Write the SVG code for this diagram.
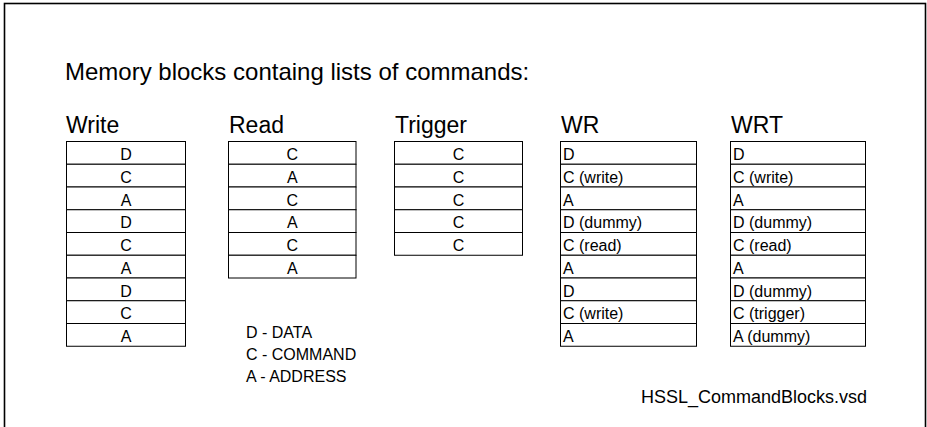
<svg xmlns="http://www.w3.org/2000/svg" width="927" height="427" viewBox="0 0 927 427">
<style>
.t{font-family:"Liberation Sans",Arial,sans-serif;fill:#000}
.title{font-size:24px}
.head{font-size:23px}
.cell{fill:#fff;stroke:#000;stroke-width:1}
.ct{font-size:16px;text-anchor:middle}
.lt{font-size:16px}
.leg{font-size:16px}
.foot{font-size:18px}
</style>
<rect x="4.5" y="3.5" width="921" height="440" fill="#fff" stroke="#000" stroke-width="1.6"/>
<text class="t title" x="65" y="80">Memory blocks containg lists of commands:</text>
<g id="write">
<text class="t head" x="66" y="132.5">Write</text>
<rect class="cell" x="66.5" y="141.5" width="119" height="22.75"/>
<rect class="cell" x="66.5" y="164.25" width="119" height="22.75"/>
<rect class="cell" x="66.5" y="187" width="119" height="22.75"/>
<rect class="cell" x="66.5" y="209.75" width="119" height="22.75"/>
<rect class="cell" x="66.5" y="232.5" width="119" height="22.75"/>
<rect class="cell" x="66.5" y="255.25" width="119" height="22.75"/>
<rect class="cell" x="66.5" y="278" width="119" height="22.75"/>
<rect class="cell" x="66.5" y="300.75" width="119" height="22.75"/>
<rect class="cell" x="66.5" y="323.5" width="119" height="22.75"/>
<text class="t ct" x="126" y="160">D</text>
<text class="t ct" x="126" y="182.75">C</text>
<text class="t ct" x="126" y="205.5">A</text>
<text class="t ct" x="126" y="228.25">D</text>
<text class="t ct" x="126" y="251">C</text>
<text class="t ct" x="126" y="273.75">A</text>
<text class="t ct" x="126" y="296.5">D</text>
<text class="t ct" x="126" y="319.25">C</text>
<text class="t ct" x="126" y="342">A</text>
</g>
<g id="read">
<text class="t head" x="229" y="132.5">Read</text>
<rect class="cell" x="228.5" y="141.5" width="127.5" height="22.75"/>
<rect class="cell" x="228.5" y="164.25" width="127.5" height="22.75"/>
<rect class="cell" x="228.5" y="187" width="127.5" height="22.75"/>
<rect class="cell" x="228.5" y="209.75" width="127.5" height="22.75"/>
<rect class="cell" x="228.5" y="232.5" width="127.5" height="22.75"/>
<rect class="cell" x="228.5" y="255.25" width="127.5" height="22.75"/>
<text class="t ct" x="292.25" y="160">C</text>
<text class="t ct" x="292.25" y="182.75">A</text>
<text class="t ct" x="292.25" y="205.5">C</text>
<text class="t ct" x="292.25" y="228.25">A</text>
<text class="t ct" x="292.25" y="251">C</text>
<text class="t ct" x="292.25" y="273.75">A</text>
</g>
<g id="trigger">
<text class="t head" x="395" y="132.5">Trigger</text>
<rect class="cell" x="394.5" y="141.5" width="128" height="22.75"/>
<rect class="cell" x="394.5" y="164.25" width="128" height="22.75"/>
<rect class="cell" x="394.5" y="187" width="128" height="22.75"/>
<rect class="cell" x="394.5" y="209.75" width="128" height="22.75"/>
<rect class="cell" x="394.5" y="232.5" width="128" height="22.75"/>
<text class="t ct" x="458.5" y="160">C</text>
<text class="t ct" x="458.5" y="182.75">C</text>
<text class="t ct" x="458.5" y="205.5">C</text>
<text class="t ct" x="458.5" y="228.25">C</text>
<text class="t ct" x="458.5" y="251">C</text>
</g>
<g id="wr">
<text class="t head" x="561" y="132.5">WR</text>
<rect class="cell" x="560.5" y="141.5" width="136" height="22.75"/>
<rect class="cell" x="560.5" y="164.25" width="136" height="22.75"/>
<rect class="cell" x="560.5" y="187" width="136" height="22.75"/>
<rect class="cell" x="560.5" y="209.75" width="136" height="22.75"/>
<rect class="cell" x="560.5" y="232.5" width="136" height="22.75"/>
<rect class="cell" x="560.5" y="255.25" width="136" height="22.75"/>
<rect class="cell" x="560.5" y="278" width="136" height="22.75"/>
<rect class="cell" x="560.5" y="300.75" width="136" height="22.75"/>
<rect class="cell" x="560.5" y="323.5" width="136" height="22.75"/>
<text class="t lt" x="563" y="160">D</text>
<text class="t lt" x="563" y="182.75">C (write)</text>
<text class="t lt" x="563" y="205.5">A</text>
<text class="t lt" x="563" y="228.25">D (dummy)</text>
<text class="t lt" x="563" y="251">C (read)</text>
<text class="t lt" x="563" y="273.75">A</text>
<text class="t lt" x="563" y="296.5">D</text>
<text class="t lt" x="563" y="319.25">C (write)</text>
<text class="t lt" x="563" y="342">A</text>
</g>
<g id="wrt">
<text class="t head" x="731" y="132.5">WRT</text>
<rect class="cell" x="730.5" y="141.5" width="135" height="22.75"/>
<rect class="cell" x="730.5" y="164.25" width="135" height="22.75"/>
<rect class="cell" x="730.5" y="187" width="135" height="22.75"/>
<rect class="cell" x="730.5" y="209.75" width="135" height="22.75"/>
<rect class="cell" x="730.5" y="232.5" width="135" height="22.75"/>
<rect class="cell" x="730.5" y="255.25" width="135" height="22.75"/>
<rect class="cell" x="730.5" y="278" width="135" height="22.75"/>
<rect class="cell" x="730.5" y="300.75" width="135" height="22.75"/>
<rect class="cell" x="730.5" y="323.5" width="135" height="22.75"/>
<text class="t lt" x="733" y="160">D</text>
<text class="t lt" x="733" y="182.75">C (write)</text>
<text class="t lt" x="733" y="205.5">A</text>
<text class="t lt" x="733" y="228.25">D (dummy)</text>
<text class="t lt" x="733" y="251">C (read)</text>
<text class="t lt" x="733" y="273.75">A</text>
<text class="t lt" x="733" y="296.5">D (dummy)</text>
<text class="t lt" x="733" y="319.25">C (trigger)</text>
<text class="t lt" x="733" y="342">A (dummy)</text>
</g>
<g id="legend">
<text class="t leg" x="246" y="338">D - DATA</text>
<text class="t leg" x="246" y="360">C - COMMAND</text>
<text class="t leg" x="246" y="382">A - ADDRESS</text>
</g>
<g id="footer">
<text class="t foot" x="641" y="403">HSSL_CommandBlocks.vsd</text>
</g>
<g id="connectors"/>
</svg>
